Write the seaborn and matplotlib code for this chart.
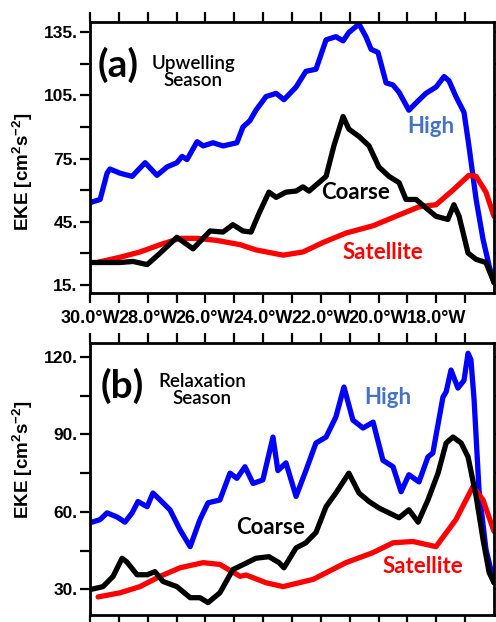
import pandas as pd
import matplotlib
matplotlib.use("Agg")
import matplotlib.pyplot as plt
import seaborn as sns
from matplotlib.ticker import FixedLocator, FuncFormatter, FormatStrFormatter, AutoMinorLocator

# ---- panel (a): upwelling season ----
lon_high_a = [-30.00, -29.65, -29.41, -29.31, -28.96, -28.54, -28.37, -28.09, -27.92, -27.68,
              -27.33, -26.99, -26.81, -26.64, -26.29, -26.08, -25.74, -25.39, -24.91, -24.70,
              -24.46, -24.25, -23.90, -23.55, -23.28, -22.86, -22.52, -22.17, -21.82, -21.48,
              -21.23, -21.03, -20.68, -20.44, -20.26, -20.02, -19.74, -19.50, -19.29, -18.95,
              -18.70, -18.36, -18.01, -17.73, -17.56, -17.32, -17.04, -16.87, -16.62, -16.38,
              -16.17, -16.00]
eke_high_a = [54, 55.5, 68, 70, 68, 66.5, 69, 73, 70.5, 67,
              71, 73, 76, 74.5, 83, 81, 82.5, 81, 82.5, 90,
              93, 98, 104.5, 106, 103, 109, 116.5, 117.5, 131.5, 133,
              131, 135, 139, 133, 127, 125.5, 111, 110, 106.5, 98,
              101.5, 106, 109, 114, 112, 104.5, 97, 81, 55.5, 36.5,
              24, 16]

lon_coarse_a = [-30.00, -29.65, -28.96, -28.51, -28.02, -27.57, -26.99, -26.43, -25.84, -25.39,
                -25.05, -24.70, -24.42, -24.14, -23.80, -23.55, -23.21, -22.86, -22.62, -22.41,
                -22.07, -21.82, -21.55, -21.23, -21.03, -20.68, -20.33, -19.99, -19.64, -19.29,
                -19.05, -18.70, -18.36, -18.01, -17.60, -17.39, -17.21, -16.90, -16.62, -16.28,
                -16.00]
eke_coarse_a = [25.5, 25.5, 25.5, 26, 24.5, 30, 37.5, 32, 40.5, 40,
                43.5, 40.5, 40, 49, 59, 56.5, 59, 59.5, 61.5, 59.5,
                63.5, 66.5, 81, 95, 89, 85.5, 81, 71, 66.5, 63.5,
                55.5, 55.5, 51.5, 47.5, 46, 53, 47.5, 30, 27, 25.5,
                16]

lon_sat_a = [-29.76, -28.96, -28.27, -27.57, -26.88, -26.29, -25.60, -24.80, -24.25, -23.31,
             -22.62, -21.93, -21.13, -20.19, -19.40, -18.60, -18.01, -17.42, -16.87, -16.62,
             -16.28, -16.00]
eke_sat_a = [25.5, 28, 30.5, 34, 37, 37, 36, 34, 31.5, 29,
             30.5, 35, 39.5, 43, 47.5, 52, 53, 60, 67, 66.5,
             59, 47.5]

# ---- panel (b): relaxation season ----
lon_high_b = [-29.93, -29.65, -29.41, -29.06, -28.79, -28.54, -28.34, -28.02, -27.82, -27.57,
              -27.23, -26.88, -26.53, -26.19, -25.91, -25.50, -25.15, -24.91, -24.63, -24.35,
              -24.01, -23.66, -23.49, -23.21, -22.86, -22.52, -22.17, -21.82, -21.48, -21.20,
              -20.89, -20.54, -20.19, -19.85, -19.50, -19.22, -18.95, -18.60, -18.29, -18.12,
              -17.77, -17.66, -17.49, -17.25, -17.04, -16.90, -16.80, -16.69, -16.52, -16.28,
              -16.00]
eke_high_b = [56, 57, 59.6, 58, 56, 59.6, 64, 62, 67.3, 64.6,
              60.8, 53, 46.5, 57, 63.5, 64.6, 75, 73, 77.5, 71,
              72.4, 89, 76, 79, 66, 76, 86.7, 89, 96.8, 108.4,
              95.6, 92.5, 94.8, 80, 77.5, 67.8, 74.4, 71.6, 81.3, 82.8,
              104.5, 106.5, 115, 108, 111, 121.5, 119, 103.4, 68.5, 45.5,
              32.5]

lon_coarse_b = [-29.93, -29.55, -29.20, -28.89, -28.72, -28.37, -28.02, -27.75, -27.47, -26.99,
                -26.53, -26.19, -25.91, -25.50, -25.05, -24.61, -24.25, -23.80, -23.45, -23.28,
                -22.86, -22.52, -22.17, -21.82, -21.48, -21.03, -20.68, -20.33, -19.99, -19.64,
                -19.29, -18.95, -18.63, -18.29, -17.94, -17.66, -17.42, -17.14, -16.90, -16.62,
                -16.38, -16.17, -16.00]
eke_coarse_b = [30, 31, 35, 42, 40.5, 35.6, 35.6, 36.8, 33, 31,
                26.7, 26.7, 24.8, 28.6, 37.6, 40, 42, 42.6, 40.3, 38.3,
                46, 48, 52, 62, 67.3, 75, 67.3, 64, 61.5, 59.6,
                57.7, 60.8, 56, 64.6, 75, 86.7, 89, 86.7, 81.3, 66,
                49.3, 36.5, 32.5]

lon_sat_b = [-29.72, -28.96, -28.27, -27.57, -26.88, -26.08, -25.50, -24.80, -24.59, -23.90,
             -23.31, -22.27, -21.13, -20.19, -19.50, -18.81, -18.01, -17.32, -16.73, -16.38,
             -16.00]
eke_sat_b = [27, 28.6, 31, 35, 38.3, 40.3, 39.6, 35, 35.5, 32.5,
             31, 33.8, 40.3, 44.2, 48, 48.5, 46.5, 57, 69.8, 64.6,
             52.4]

xticks_major = [-30, -28, -26, -24, -22, -20, -18]
xticks_minor = [-29, -27, -25, -23, -21, -19, -17]

sns.set_style("ticks")
plt.rcParams["font.family"] = ["Liberation Sans", "DejaVu Sans"]
plt.rcParams["mathtext.fontset"] = "custom"
plt.rcParams["mathtext.rm"] = "Liberation Sans:bold"
plt.rcParams["mathtext.bf"] = "Liberation Sans:bold"
for key in ["text.color", "axes.labelcolor", "xtick.color", "ytick.color", "axes.edgecolor"]:
    plt.rcParams[key] = "black"

fig = plt.figure(figsize=(4.96, 6.22), dpi=100)
ax_a = fig.add_axes([0.1815, 0.529, 0.8145, 0.4357])
ax_b = fig.add_axes([0.1815, 0.0113, 0.8145, 0.4373])

line_kw = dict(lw=3.8, solid_capstyle="round", solid_joinstyle="round", estimator=None, sort=False)


def draw(ax, lh, eh, lc, ec, ls, es):
    sns.lineplot(ax=ax, x=lh, y=eh, color="#0000ff", **line_kw)
    sns.lineplot(ax=ax, x=ls, y=es, color="#ff0000", **line_kw)
    sns.lineplot(ax=ax, x=lc, y=ec, color="black", **line_kw)
    ax.set_xlim(-30, -16)
    ax.xaxis.set_major_locator(FixedLocator(xticks_major))
    ax.xaxis.set_minor_locator(FixedLocator(xticks_minor))
    ax.xaxis.set_major_formatter(FuncFormatter(lambda v, p: f"{abs(v):.1f}\u00b0W"))
    ax.yaxis.set_major_formatter(FormatStrFormatter("%d."))
    ax.yaxis.set_minor_locator(AutoMinorLocator(2))
    ax.tick_params(which="both", direction="out", length=7, width=1.6,
                   top=True, right=True, colors="black")
    ax.tick_params(axis="x", pad=5, labelsize=13)
    ax.tick_params(axis="y", pad=2, labelsize=12.5)
    for lab in ax.get_xticklabels() + ax.get_yticklabels():
        lab.set_fontweight("bold")
    for sp in ax.spines.values():
        sp.set_linewidth(2)
        sp.set_color("black")
    ax.set_xlabel("")


draw(ax_a, lon_high_a, eke_high_a, lon_coarse_a, eke_coarse_a, lon_sat_a, eke_sat_a)
ax_a.set_ylim(11, 140)
ax_a.set_yticks([15, 45, 75, 105, 135])

draw(ax_b, lon_high_b, eke_high_b, lon_coarse_b, eke_coarse_b, lon_sat_b, eke_sat_b)
ax_b.set_ylim(20, 125.5)
ax_b.set_yticks([30, 60, 90, 120])
ax_b.tick_params(axis="x", labelbottom=False)

ylab = r"EKE [cm$^{\mathbf{2}}$s$^{\mathbf{-2}}$]"
for ax, yc in [(ax_a, 0.4465), (ax_b, 0.57)]:
    ax.set_ylabel(ylab, fontsize=13.5, fontweight="bold", va="center")
    ax.yaxis.set_label_coords(-0.168, yc)

lab_font = ["Lato", "DejaVu Sans"]
ax_a.text(0.069, 0.841, "(a)", transform=ax_a.transAxes, ha="center", va="center",
          fontsize=28, fontweight="bold", family=lab_font)
ax_a.text(0.255, 0.815, "Upwelling\nSeason", transform=ax_a.transAxes, ha="center", va="center",
          fontsize=13.5, fontweight="semibold", family=lab_font, linespacing=1.0)
ax_a.text(0.844, 0.613, "High", transform=ax_a.transAxes, ha="center", va="center",
          fontsize=16, fontweight="bold", color="#4472c4", family=lab_font)
ax_a.text(0.658, 0.369, "Coarse", transform=ax_a.transAxes, ha="center", va="center",
          fontsize=16, fontweight="bold", color="black", family=lab_font)
ax_a.text(0.725, 0.151, "Satellite", transform=ax_a.transAxes, ha="center", va="center",
          fontsize=16, fontweight="bold", color="#ff0000", family=lab_font)

ax_b.text(0.079, 0.842, "(b)", transform=ax_b.transAxes, ha="center", va="center",
          fontsize=28, fontweight="bold", family=lab_font)
ax_b.text(0.277, 0.827, "Relaxation\nSeason", transform=ax_b.transAxes, ha="center", va="center",
          fontsize=13.5, fontweight="semibold", family=lab_font, linespacing=1.0)
ax_b.text(0.738, 0.798, "High", transform=ax_b.transAxes, ha="center", va="center",
          fontsize=16, fontweight="bold", color="#4472c4", family=lab_font)
ax_b.text(0.446, 0.32, "Coarse", transform=ax_b.transAxes, ha="center", va="center",
          fontsize=16, fontweight="bold", color="black", family=lab_font)
ax_b.text(0.824, 0.18, "Satellite", transform=ax_b.transAxes, ha="center", va="center",
          fontsize=16, fontweight="bold", color="#ff0000", family=lab_font)

fig.savefig("out.png", dpi=100)
